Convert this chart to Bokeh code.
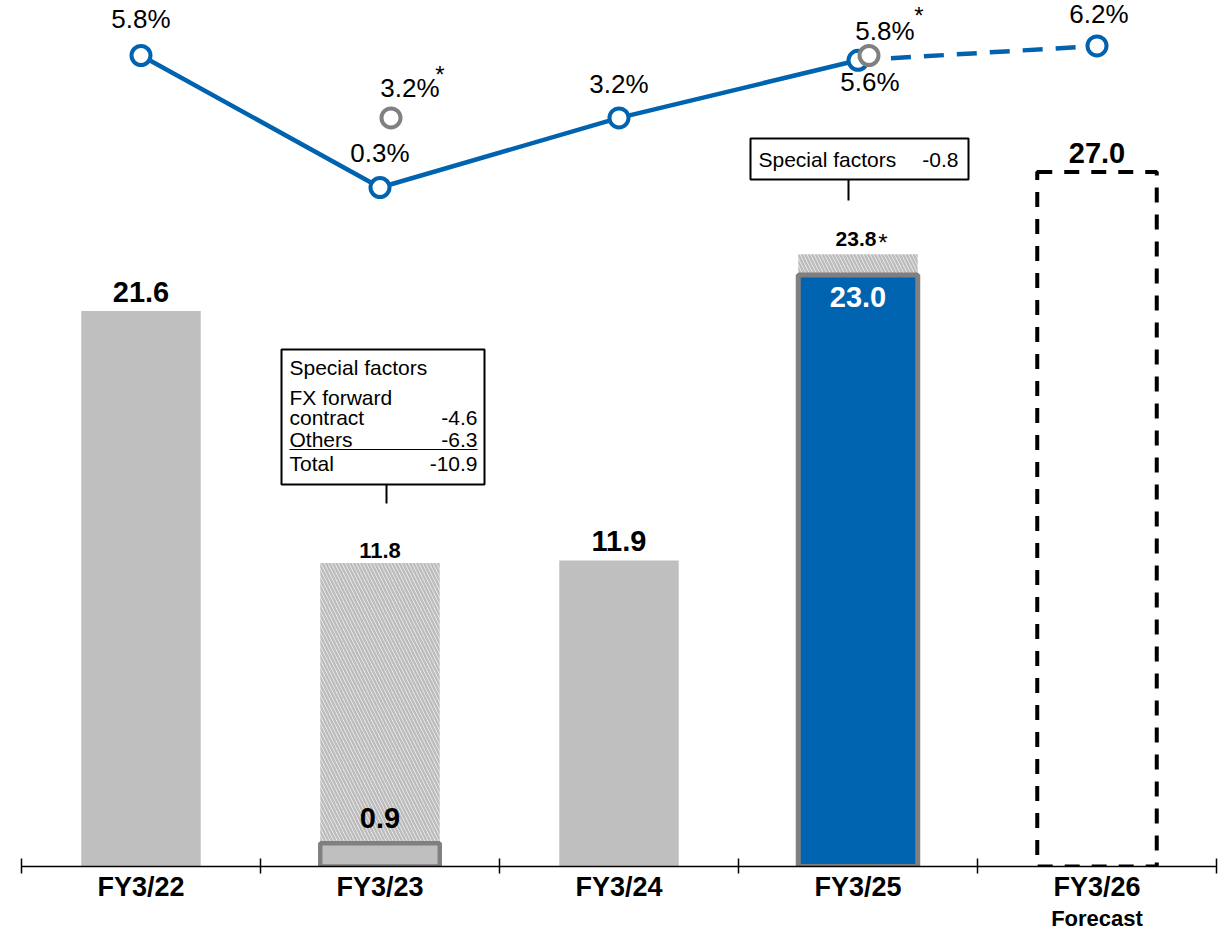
from bokeh.plotting import figure
from bokeh.models import Range1d, LinearAxis, FixedTicker
from bokeh.core.properties import value
from bokeh.embed import file_html
from bokeh.resources import INLINE

# ---------------- data ----------------
categories = ["FY3/22", "FY3/23", "FY3/24", "FY3/25", "FY3/26"]
forecast_note = "Forecast"
operating_profit = [21.6, 0.9, 11.9, 23.0, 27.0]
profit_excl_special = [None, 11.8, None, 23.8, None]
ros_pct = [5.8, 0.3, 3.2, 5.6, 6.2]
ros_excl_special_pct = [None, 3.2, None, 5.8, None]
sf_title = "Special factors"
sf_fy23_labels = ["FX forward", "contract", "Others", "Total"]
sf_fy23_values = [None, -4.6, -6.3, -10.9]
sf_fy25_value = -0.8

# ---------------- layout ----------------
W, H = 1223, 933
LEFT = 21
RIGHT = 7
FRAME_W = W - LEFT - RIGHT
FRAME_H = 866
BOTTOM = H - FRAME_H
N = len(categories)
PX_CAT = FRAME_W / N
PX_UNIT = 25.72          # px per bar unit
PX_PCT = 24.0            # px per percentage point
FRAME_TOP = 0
FRAME_BOT = FRAME_TOP + FRAME_H

def cx(i):
    return LEFT + (i + 0.5) * PX_CAT

def fx(i, off=0.0):
    return i + off / PX_CAT

def fy(page_y):
    return (FRAME_BOT - page_y) / PX_UNIT

pct_top = 0.3 + (187 - FRAME_TOP) / PX_PCT
pct_bot = pct_top - FRAME_H / PX_PCT

FONT = "Liberation Sans"
BLUE = "#0063B0"
GRAY = "#BFBFBF"
DGRAY = "#808080"

p = figure(width=W, height=H, output_backend="svg", toolbar_location=None,
           x_axis_type=None, y_axis_type=None,
           x_range=Range1d(-0.5, N - 0.5), y_range=Range1d(0, FRAME_H / PX_UNIT),
           min_border=0, min_border_left=LEFT, min_border_right=RIGHT,
           min_border_top=0, min_border_bottom=BOTTOM,
           background_fill_color="white", border_fill_color="white")
p.outline_line_color = None
p.grid.visible = False
p.extra_y_ranges = {"pct": Range1d(pct_bot, pct_top)}

xs = list(range(N))
BW = 0.5

# hatched (excl. special factors) parts
hx = [i for i in xs if profit_excl_special[i] is not None]
p.quad(left=[i - BW / 2 for i in hx], right=[i + BW / 2 for i in hx],
       bottom=[operating_profit[i] for i in hx], top=[profit_excl_special[i] for i in hx],
       fill_color="white", line_color=None,
       hatch_pattern="\\", hatch_color="#BDBDBD", hatch_scale=7, hatch_weight=2.6)

# plain gray bars
gx = [0, 2]
p.quad(left=[i - BW / 2 for i in gx], right=[i + BW / 2 for i in gx],
       bottom=0, top=[operating_profit[i] for i in gx],
       fill_color=GRAY, line_color=None)
# FY3/23 bar with border
p.quad(left=[1 - BW / 2], right=[1 + BW / 2], bottom=0, top=[operating_profit[1]],
       fill_color=GRAY, line_color=DGRAY, line_width=4.5)
# FY3/25 blue bar
p.quad(left=[3 - BW / 2], right=[3 + BW / 2], bottom=0, top=[operating_profit[3]],
       fill_color=BLUE, line_color=DGRAY, line_width=5)
# FY3/26 forecast (dashed)
p.quad(left=[4 - BW / 2], right=[4 + BW / 2], bottom=0, top=[operating_profit[4]],
       fill_color="white", line_color="black", line_width=4, line_dash="15 12")

# bar value labels (middle baseline -> cap centre)
big = dict(text_font=value(FONT), text_font_style="bold", text_font_size="29px",
           text_align="center", text_baseline="middle")
p.text(x=[0, 2, 4], y=[operating_profit[i] for i in (0, 2, 4)],
       text=[f"{operating_profit[i]:.1f}" for i in (0, 2, 4)],
       y_offset=-19, text_color="black", **big)
p.text(x=[1], y=[operating_profit[1]], text=[f"{operating_profit[1]:.1f}"],
       y_offset=-25, text_color="black", **big)
p.text(x=[3], y=[operating_profit[3]], text=[f"{operating_profit[3]:.1f}"],
       y_offset=22, text_color="white", **big)
small = dict(text_font=value(FONT), text_font_style="bold",
             text_align="center", text_baseline="middle", text_color="black")
p.text(x=[1], y=[profit_excl_special[1]], text=[f"{profit_excl_special[1]:.1f}"],
       y_offset=-13, text_font_size="22px", **small)
p.text(x=[fx(3, -2)], y=[profit_excl_special[3]], text=[f"{profit_excl_special[3]:.1f}"],
       y_offset=-15, text_font_size="21px", **small)
star = dict(text_font=value(FONT), text_font_size="24px", text_align="center",
            text_baseline="middle", text_color="black")
p.text(x=[fx(3, 25)], y=[profit_excl_special[3]], text=["*"], y_offset=-12, **star)

# ROS line
p.line(x=xs[:4], y=ros_pct[:4], y_range_name="pct", line_color=BLUE, line_width=4.5)
p.line(x=xs[3:], y=ros_pct[3:], y_range_name="pct", line_color=BLUE, line_width=4.5,
       line_dash="20 13")
p.scatter(x=xs, y=ros_pct, y_range_name="pct", marker="circle", size=19,
          line_width=4, line_color=BLUE, fill_color="white")
ax_ = [i for i in xs if ros_excl_special_pct[i] is not None]
p.scatter(x=[fx(i, 11) for i in ax_], y=[ros_excl_special_pct[i] for i in ax_],
          y_range_name="pct", marker="circle", size=19, line_width=4,
          line_color=DGRAY, fill_color="white")

pct = dict(text_font=value(FONT), text_font_size="26px", text_align="center",
           text_baseline="middle", text_color="black")
p.text(x=xs, y=ros_pct, y_range_name="pct", text=[f"{v:.1f}%" for v in ros_pct],
       x_offset=[0, 0, 0, 12, 2], y_offset=[-37, -34.5, -34, 22, -32], **pct)
p.text(x=[fx(i) for i in ax_], y=[ros_excl_special_pct[i] for i in ax_], y_range_name="pct",
       text=[f"{ros_excl_special_pct[i]:.1f}%" for i in ax_],
       x_offset=[30, 27], y_offset=[-29.5, -24.5], **pct)
p.text(x=[fx(i) for i in ax_], y=[ros_excl_special_pct[i] for i in ax_], y_range_name="pct",
       text=["*"] * len(ax_), x_offset=[60, 61], y_offset=[-43, -40], **star)

# Special factors boxes
def box(i, l, r, t, b):
    c = cx(i)
    p.quad(left=[fx(i, l - c)], right=[fx(i, r - c)], top=[fy(t)], bottom=[fy(b)],
           fill_color="white", line_color="black", line_width=2)

box(1, 281, 484, 349, 484)
c1 = cx(1)
p.segment(x0=[fx(1, 386 - c1)], x1=[fx(1, 386 - c1)], y0=[fy(484)], y1=[fy(503)],
          line_color="black", line_width=2)
sf = dict(text_font=value(FONT), text_font_size="21px", text_baseline="middle",
          text_color="black")
p.text(x=[fx(1, 289 - c1)], y=[fy(367)], text=[sf_title], text_align="left", **sf)
rows_y = [397, 417, 439, 463]
p.text(x=[fx(1, 289 - c1)] * 4, y=[fy(v) for v in rows_y], text=sf_fy23_labels,
       text_align="left", **sf)
vi = [k for k in range(4) if sf_fy23_values[k] is not None]
p.text(x=[fx(1, 477 - c1)] * len(vi), y=[fy(rows_y[k]) for k in vi],
       text=[f"{sf_fy23_values[k]:.1f}" for k in vi], text_align="right", **sf)
p.segment(x0=[fx(1, 289 - c1)], x1=[fx(1, 477 - c1)], y0=[fy(449)], y1=[fy(449)],
          line_color="black", line_width=1.2)

box(3, 750, 968, 138, 179)
c3 = cx(3)
p.segment(x0=[fx(3, 848 - c3)], x1=[fx(3, 848 - c3)], y0=[fy(179)], y1=[fy(200)],
          line_color="black", line_width=2)
p.text(x=[fx(3, 758 - c3)], y=[fy(159)], text=[sf_title], text_align="left", **sf)
p.text(x=[fx(3, 958 - c3)], y=[fy(159)], text=[f"{sf_fy25_value:.1f}"], text_align="right", **sf)

# x axis with boundary ticks
ax = LinearAxis(ticker=FixedTicker(ticks=xs, minor_ticks=[i - 0.5 for i in range(N + 1)]))
ax.major_label_overrides = {i: c for i, c in enumerate(categories)}
ax.major_tick_in = 0
ax.major_tick_out = 0
ax.minor_tick_in = 8
ax.minor_tick_out = 7
ax.minor_tick_line_color = "black"
ax.minor_tick_line_width = 1.5
ax.axis_line_color = "black"
ax.axis_line_width = 1.5
ax.major_label_text_font = FONT
ax.major_label_text_font_style = "bold"
ax.major_label_text_font_size = "27px"
ax.major_label_text_color = "black"
ax.major_label_standoff = -2
p.add_layout(ax, "below")

# second row of labels: "Forecast" under FY3/26
ax2 = LinearAxis(ticker=FixedTicker(ticks=[4], minor_ticks=[]))
ax2.major_label_overrides = {4: forecast_note}
ax2.axis_line_color = None
ax2.major_tick_line_color = None
ax2.minor_tick_line_color = None
ax2.major_tick_in = 0
ax2.major_tick_out = 0
ax2.major_label_text_font = FONT
ax2.major_label_text_font_style = "bold"
ax2.major_label_text_font_size = "22px"
ax2.major_label_text_color = "black"
ax2.major_label_standoff = 1
p.add_layout(ax2, "below")

open("out.html", "w").write(file_html(p, INLINE))
